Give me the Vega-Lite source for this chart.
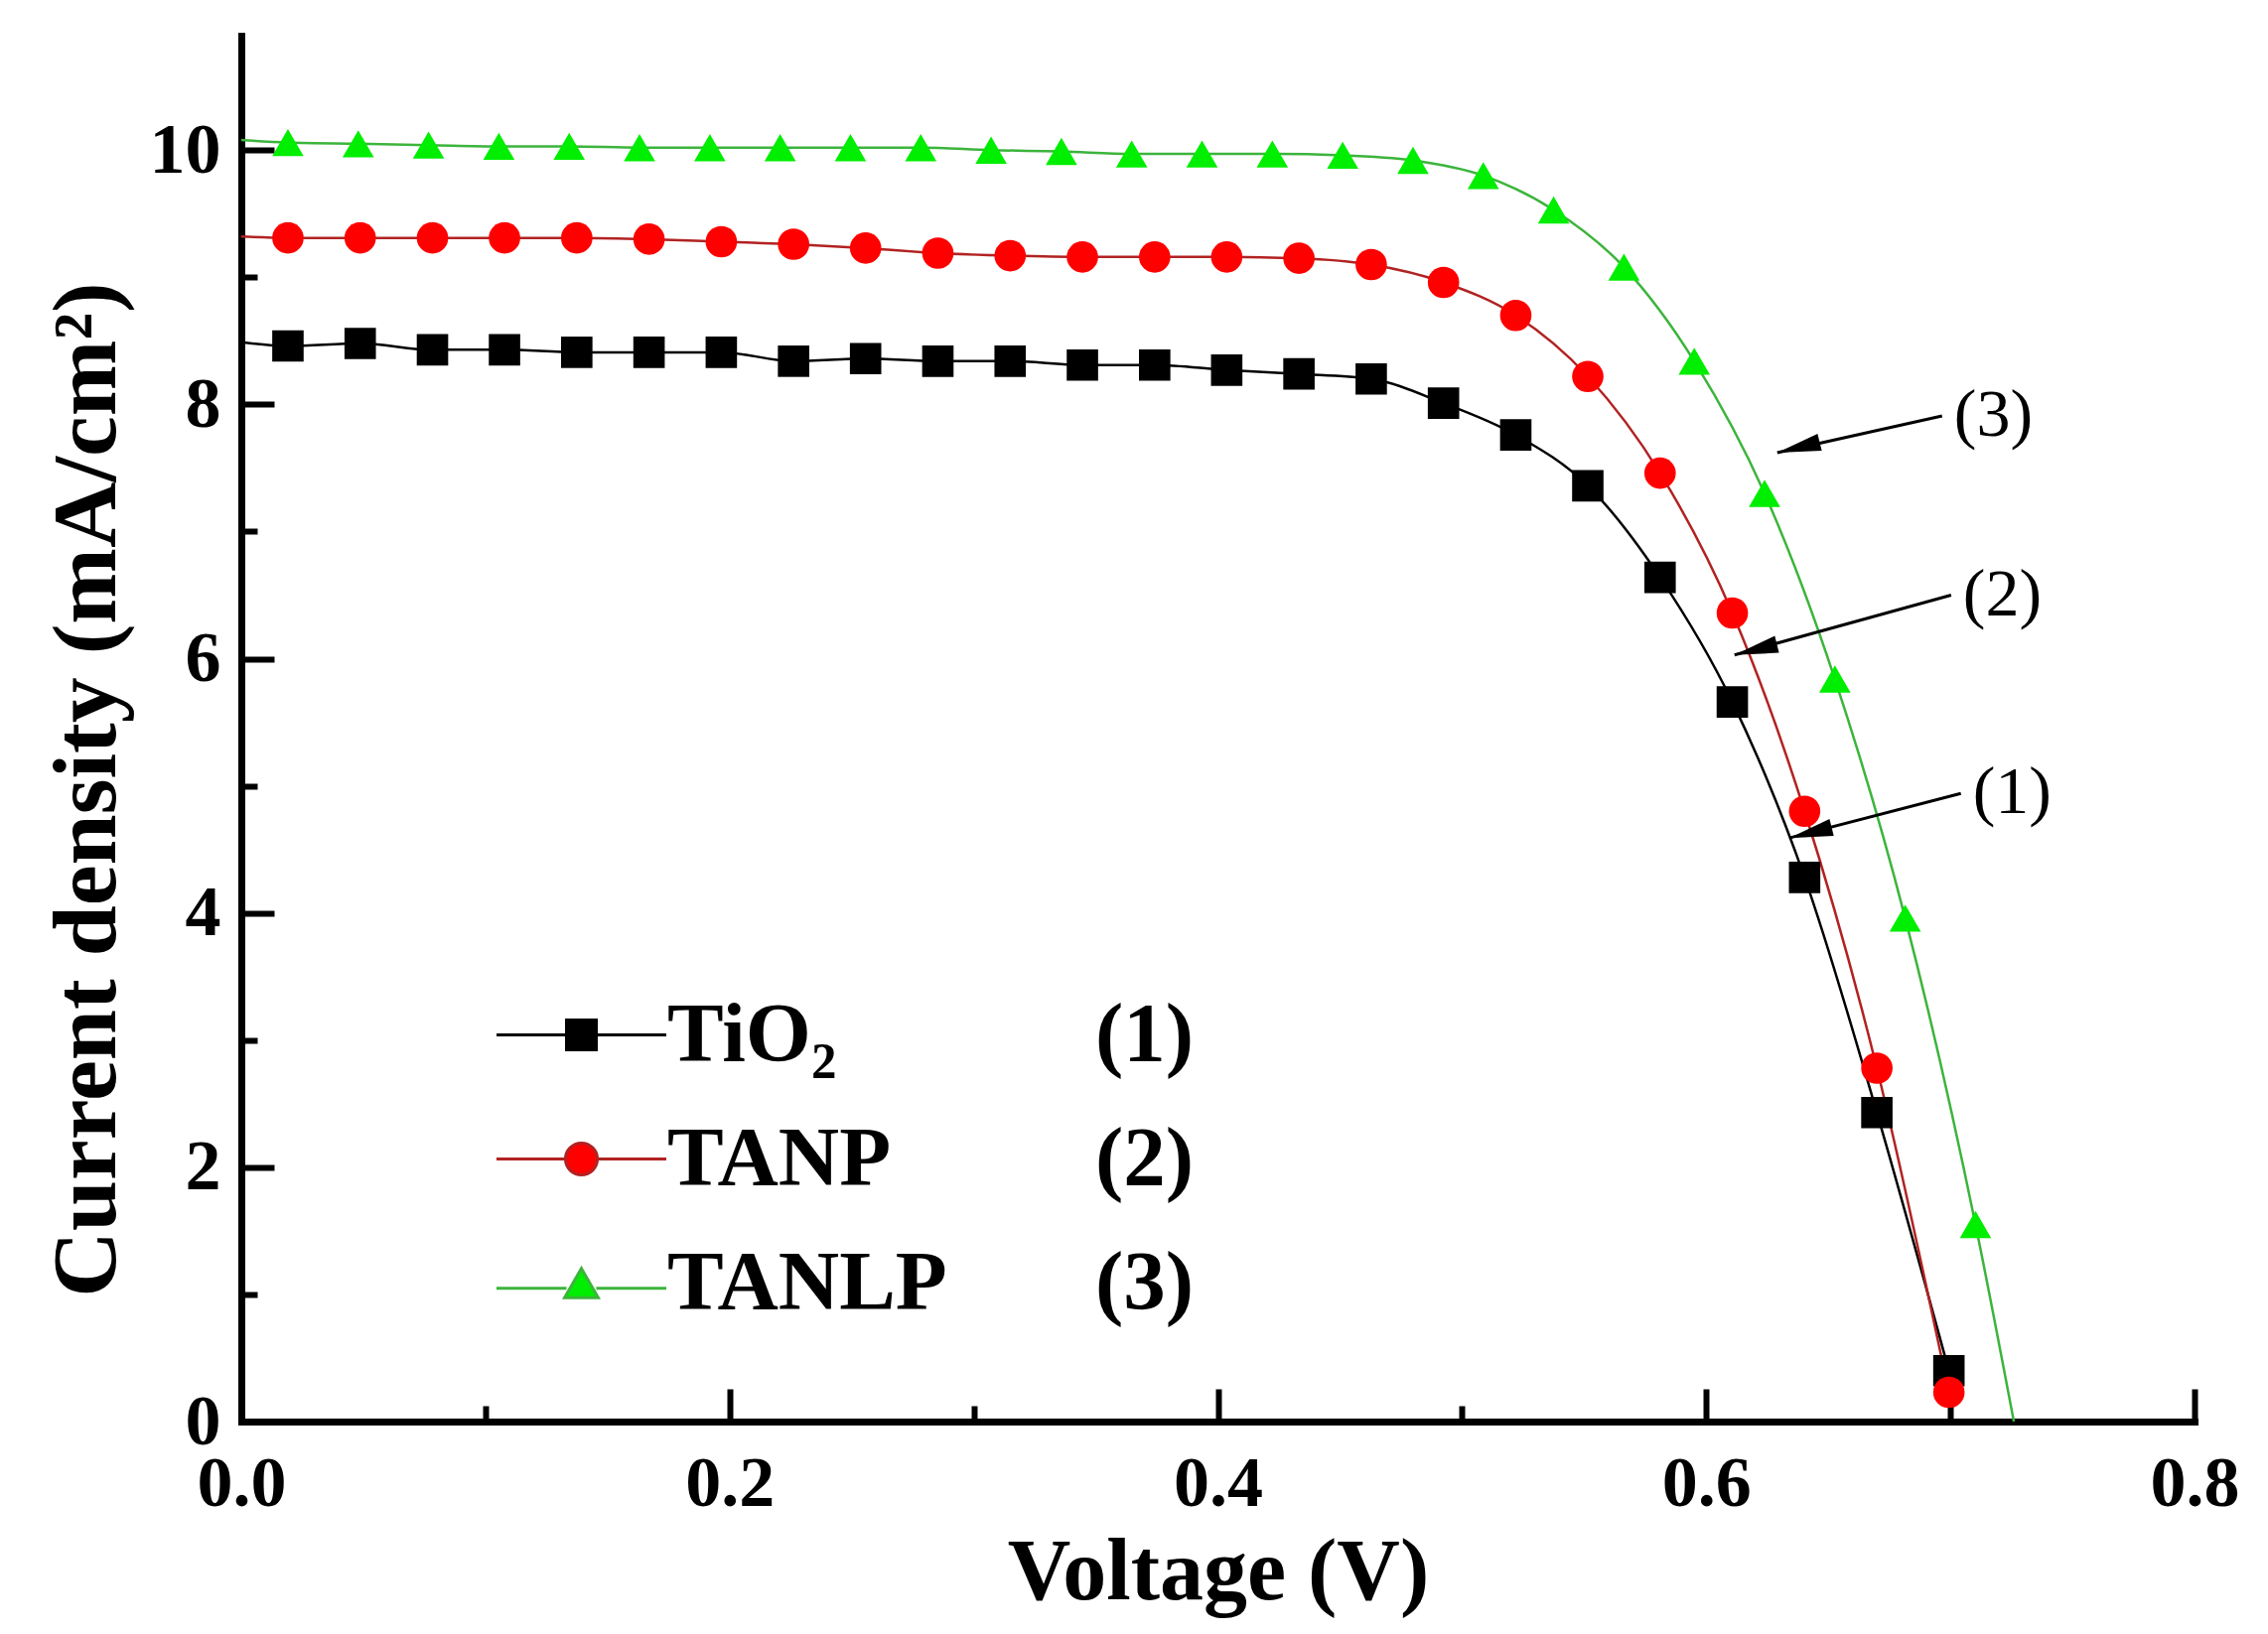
{
  "$schema": "https://vega.github.io/schema/vega-lite/v6.json",
  "width": 1967,
  "height": 1396,
  "autosize": "none",
  "padding": {"left": 243, "top": 36, "right": 74, "bottom": 214},
  "background": "white",
  "datasets": {
    "jv": [
      {"series": "TiO₂", "V": 0, "J": 8.49},
      {"series": "TiO₂", "V": 0.0191, "J": 8.46},
      {"series": "TiO₂", "V": 0.0487, "J": 8.48},
      {"series": "TiO₂", "V": 0.0783, "J": 8.43},
      {"series": "TiO₂", "V": 0.1078, "J": 8.43},
      {"series": "TiO₂", "V": 0.1374, "J": 8.41},
      {"series": "TiO₂", "V": 0.167, "J": 8.41},
      {"series": "TiO₂", "V": 0.1966, "J": 8.41},
      {"series": "TiO₂", "V": 0.2262, "J": 8.34},
      {"series": "TiO₂", "V": 0.2557, "J": 8.36},
      {"series": "TiO₂", "V": 0.2853, "J": 8.34},
      {"series": "TiO₂", "V": 0.3149, "J": 8.34},
      {"series": "TiO₂", "V": 0.3445, "J": 8.31},
      {"series": "TiO₂", "V": 0.3741, "J": 8.31},
      {"series": "TiO₂", "V": 0.4036, "J": 8.27},
      {"series": "TiO₂", "V": 0.4332, "J": 8.24},
      {"series": "TiO₂", "V": 0.4628, "J": 8.2},
      {"series": "TiO₂", "V": 0.4924, "J": 8.01},
      {"series": "TiO₂", "V": 0.522, "J": 7.76},
      {"series": "TiO₂", "V": 0.5515, "J": 7.36},
      {"series": "TiO₂", "V": 0.5811, "J": 6.64},
      {"series": "TiO₂", "V": 0.6107, "J": 5.66},
      {"series": "TiO₂", "V": 0.6403, "J": 4.28},
      {"series": "TiO₂", "V": 0.6699, "J": 2.43},
      {"series": "TiO₂", "V": 0.6994, "J": 0.4},
      {"series": "TANP", "V": 0, "J": 9.32},
      {"series": "TANP", "V": 0.0191, "J": 9.31},
      {"series": "TANP", "V": 0.0487, "J": 9.31},
      {"series": "TANP", "V": 0.0783, "J": 9.31},
      {"series": "TANP", "V": 0.1078, "J": 9.31},
      {"series": "TANP", "V": 0.1374, "J": 9.31},
      {"series": "TANP", "V": 0.167, "J": 9.3},
      {"series": "TANP", "V": 0.1966, "J": 9.28},
      {"series": "TANP", "V": 0.2262, "J": 9.26},
      {"series": "TANP", "V": 0.2557, "J": 9.23},
      {"series": "TANP", "V": 0.2853, "J": 9.19},
      {"series": "TANP", "V": 0.3149, "J": 9.17},
      {"series": "TANP", "V": 0.3445, "J": 9.16},
      {"series": "TANP", "V": 0.3741, "J": 9.16},
      {"series": "TANP", "V": 0.4036, "J": 9.16},
      {"series": "TANP", "V": 0.4332, "J": 9.15},
      {"series": "TANP", "V": 0.4628, "J": 9.1},
      {"series": "TANP", "V": 0.4924, "J": 8.96},
      {"series": "TANP", "V": 0.522, "J": 8.7},
      {"series": "TANP", "V": 0.5515, "J": 8.22},
      {"series": "TANP", "V": 0.5811, "J": 7.46},
      {"series": "TANP", "V": 0.6107, "J": 6.36},
      {"series": "TANP", "V": 0.6403, "J": 4.8},
      {"series": "TANP", "V": 0.6699, "J": 2.78},
      {"series": "TANP", "V": 0.6994, "J": 0.23},
      {"series": "TANLP", "V": 0, "J": 10.08},
      {"series": "TANLP", "V": 0.0191, "J": 10.06},
      {"series": "TANLP", "V": 0.0479, "J": 10.05},
      {"series": "TANLP", "V": 0.0767, "J": 10.04},
      {"series": "TANLP", "V": 0.1055, "J": 10.03},
      {"series": "TANLP", "V": 0.1343, "J": 10.03},
      {"series": "TANLP", "V": 0.1631, "J": 10.02},
      {"series": "TANLP", "V": 0.1919, "J": 10.02},
      {"series": "TANLP", "V": 0.2207, "J": 10.02},
      {"series": "TANLP", "V": 0.2495, "J": 10.02},
      {"series": "TANLP", "V": 0.2783, "J": 10.02},
      {"series": "TANLP", "V": 0.3071, "J": 10.0},
      {"series": "TANLP", "V": 0.3359, "J": 9.99},
      {"series": "TANLP", "V": 0.3647, "J": 9.97},
      {"series": "TANLP", "V": 0.3935, "J": 9.97},
      {"series": "TANLP", "V": 0.4223, "J": 9.97},
      {"series": "TANLP", "V": 0.4511, "J": 9.96},
      {"series": "TANLP", "V": 0.4799, "J": 9.92},
      {"series": "TANLP", "V": 0.5087, "J": 9.8},
      {"series": "TANLP", "V": 0.5375, "J": 9.53},
      {"series": "TANLP", "V": 0.5663, "J": 9.08},
      {"series": "TANLP", "V": 0.5951, "J": 8.34},
      {"series": "TANLP", "V": 0.6239, "J": 7.3},
      {"series": "TANLP", "V": 0.6527, "J": 5.84},
      {"series": "TANLP", "V": 0.6815, "J": 3.96},
      {"series": "TANLP", "V": 0.7103, "J": 1.55},
      {"series": "TANLP", "V": 0.726, "J": 0}
    ],
    "arrows": [
      {"label": "(3)", "V": 0.6966, "J": 7.91, "V2": 0.6291, "J2": 7.62},
      {"label": "(2)", "V": 0.7003, "J": 6.5, "V2": 0.6116, "J2": 6.03},
      {"label": "(1)", "V": 0.7043, "J": 4.94, "V2": 0.634, "J2": 4.59}
    ]
  },
  "config": {
    "view": {"stroke": null},
    "axis": {
      "grid": false,
      "domainColor": "black",
      "domainWidth": 7,
      "domainCap": "square",
      "tickColor": "black",
      "tickWidth": 6,
      "labelFont": "Liberation Serif",
      "labelFontWeight": "bold",
      "labelFontSize": 72,
      "labelColor": "black",
      "labelOverlap": false,
      "labelFlush": false,
      "labelBound": false,
      "titleFont": "Liberation Serif",
      "titleFontWeight": "bold",
      "titleColor": "black"
    },
    "legend": {
      "labelFont": "Liberation Serif",
      "labelFontWeight": "bold",
      "labelFontSize": 85,
      "labelColor": "black",
      "labelLimit": 600,
      "padding": 0
    }
  },
  "resolve": {
    "scale": {"shape": "independent"},
    "legend": {"fill": "independent", "shape": "independent", "stroke": "independent", "strokeDash": "independent"}
  },
  "layer": [
    {
      "data": {"name": "jv"},
      "mark": {"type": "line", "interpolate": "monotone", "strokeWidth": 2.5},
      "encoding": {
        "x": {
          "field": "V",
          "type": "quantitative",
          "scale": {"domain": [0, 0.8], "nice": false, "zero": false},
          "axis": {
            "title": "Voltage (V)",
            "titleFontSize": 88,
            "titleY": 178,
            "titleBaseline": "alphabetic",
            "values": [0, 0.1, 0.2, 0.3, 0.4, 0.5, 0.6, 0.7, 0.8],
            "format": ".1f",
            "labelExpr": "round(datum.value * 10) % 2 === 0 ? datum.label : ''",
            "labelPadding": 60,
            "tickSize": {"condition": {"test": "round(datum.value * 10) % 2 === 0", "value": -33}, "value": -16}
          }
        },
        "y": {
          "field": "J",
          "type": "quantitative",
          "scale": {"domain": [0, 10.9], "nice": false, "zero": false},
          "axis": {
            "title": "Current density (mA/cm²)",
            "titleFontSize": 92,
            "titleX": -128,
            "titleY": 759,
            "titleBaseline": "alphabetic",
            "values": [0, 1, 2, 3, 4, 5, 6, 7, 8, 9, 10],
            "format": "d",
            "labelExpr": "datum.value % 2 === 0 ? datum.label : ''",
            "labelPadding": 54,
            "tickSize": {"condition": {"test": "datum.value % 2 === 0", "value": -33}, "value": -16}
          }
        },
        "stroke": {
          "field": "series",
          "type": "nominal",
          "scale": {"domain": ["TiO₂", "TANP", "TANLP"], "range": ["#000000", "#b22222", "#3cb43c"]},
          "legend": null
        }
      }
    },
    {
      "data": {"name": "jv"},
      "transform": [{"filter": "datum.V > 0 && datum.J > 0"}],
      "mark": {"type": "point", "filled": true, "opacity": 1, "size": 1000, "strokeWidth": 0},
      "encoding": {
        "x": {"field": "V", "type": "quantitative"},
        "y": {"field": "J", "type": "quantitative"},
        "shape": {
          "field": "series",
          "type": "nominal",
          "scale": {"domain": ["TiO₂", "TANP", "TANLP"], "range": ["square", "circle", "triangle-up"]},
          "legend": null
        },
        "fill": {
          "field": "series",
          "type": "nominal",
          "scale": {"domain": ["TiO₂", "TANP", "TANLP"], "range": ["#000000", "#ff0000", "#00ee00"]},
          "legend": null
        }
      }
    },
    {
      "data": {"name": "jv"},
      "transform": [{"filter": "datum.J < 0"}],
      "mark": {"type": "point", "filled": true, "strokeWidth": 3},
      "encoding": {
        "x": {"field": "V", "type": "quantitative"},
        "y": {"field": "J", "type": "quantitative"},
        "shape": {
          "field": "series",
          "type": "nominal",
          "scale": {
            "domain": ["TiO₂", "TANP", "TANLP"],
            "range": [
              "M-5.7,0H-1M1,0H5.7M-1,-1H1V1H-1Z",
              "M-5.7,0H-1.07M1.07,0H5.7M-1.07,0A1.07,1.07,0,1,1,1.07,0A1.07,1.07,0,1,1,-1.07,0Z",
              "M-5.7,0.35H-1M1,0.35H5.7M0,-0.98L1.13,0.98H-1.13Z"
            ]
          },
          "legend": {
            "orient": "none", "legendX": 300, "legendY": 964, "title": null,
            "symbolSize": 900, "symbolStrokeWidth": 3, "symbolOpacity": 1,
            "labelOffset": 44, "rowPadding": 39,
            "labelExpr": "datum.label === 'TiO₂' ? '\u00a0TiO₂' : datum.label"
          }
        },
        "fill": {
          "field": "series",
          "type": "nominal",
          "legend": {
            "orient": "none", "legendX": 300, "legendY": 964, "title": null,
            "symbolSize": 900, "symbolStrokeWidth": 3, "symbolOpacity": 1,
            "labelOffset": 44, "rowPadding": 39,
            "labelExpr": "datum.label === 'TiO₂' ? '\u00a0TiO₂' : datum.label"
          }
        },
        "stroke": {
          "field": "series",
          "type": "nominal",
          "legend": {
            "orient": "none", "legendX": 300, "legendY": 964, "title": null,
            "symbolSize": 900, "symbolStrokeWidth": 3, "symbolOpacity": 1,
            "labelOffset": 44, "rowPadding": 39,
            "labelExpr": "datum.label === 'TiO₂' ? '\u00a0TiO₂' : datum.label"
          }
        }
      }
    },
    {
      "data": {"name": "jv"},
      "transform": [{"filter": "datum.J < 0"}],
      "mark": {"type": "line"},
      "encoding": {
        "x": {"field": "V", "type": "quantitative"},
        "y": {"field": "J", "type": "quantitative"},
        "strokeDash": {
          "field": "series",
          "type": "nominal",
          "scale": {"domain": ["TiO₂", "TANP", "TANLP"], "range": [[1, 0], [1, 0], [1, 0]]},
          "legend": {
            "orient": "none",
            "legendX": 775,
            "legendY": 964,
            "title": null,
            "symbolOpacity": 0,
            "symbolSize": 16,
            "labelOffset": 0,
            "rowPadding": 39,
            "labelExpr": "datum.label === 'TiO₂' ? '(1)' : datum.label === 'TANP' ? '(2)' : '(3)'"
          }
        }
      }
    },
    {
      "data": {"name": "arrows"},
      "mark": {"type": "rule", "color": "black", "strokeWidth": 3},
      "encoding": {
        "x": {"field": "V", "type": "quantitative"},
        "y": {"field": "J", "type": "quantitative"},
        "x2": {"field": "V2"},
        "y2": {"field": "J2"}
      }
    },
    {
      "data": {"name": "arrows"},
      "mark": {"type": "point", "filled": true, "color": "black", "opacity": 1, "shape": "M0,0L-2,-0.4L-2,0.4Z", "size": 1936, "angle": 166},
      "encoding": {
        "x": {"field": "V2", "type": "quantitative"},
        "y": {"field": "J2", "type": "quantitative"}
      }
    },
    {
      "data": {"name": "arrows"},
      "mark": {"type": "text", "align": "left", "baseline": "middle", "dx": 12, "font": "Liberation Serif", "fontSize": 68, "color": "black"},
      "encoding": {
        "x": {"field": "V", "type": "quantitative"},
        "y": {"field": "J", "type": "quantitative"},
        "text": {"field": "label"}
      }
    }
  ]
}
